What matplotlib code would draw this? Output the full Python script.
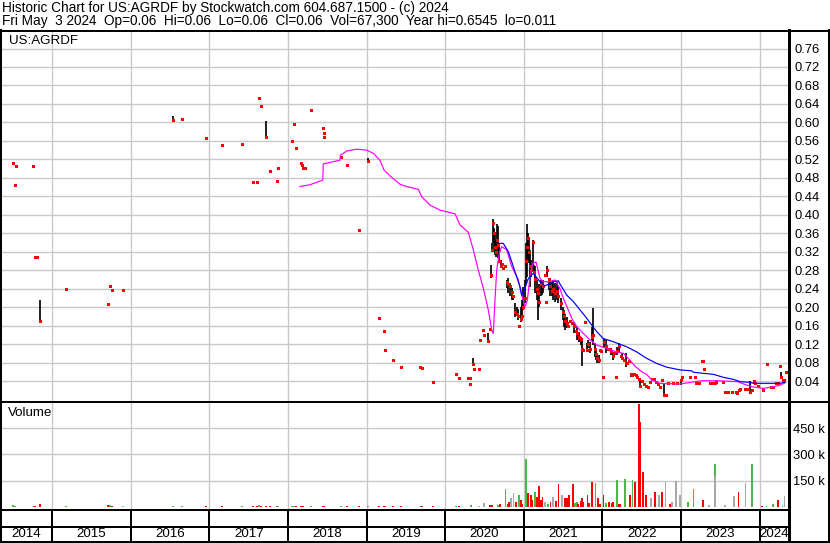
import matplotlib
matplotlib.use('Agg')
import matplotlib.pyplot as plt
from matplotlib.lines import Line2D

# ---------------- data (dates as decimal years) ----------------
range_dates = [2014.847, 2016.540, 2017.723, 2019.021, 2020.357, 2020.540,
               2020.582, 2020.594, 2020.611, 2020.624, 2020.636, 2020.649, 2020.662, 2020.675,
               2020.687, 2020.705, 2020.781, 2020.802, 2020.823, 2020.845, 2020.865, 2020.891,
               2020.909, 2020.925, 2020.959, 2020.976, 2020.993, 2021.010, 2021.027, 2021.036,
               2021.048, 2021.061, 2021.078, 2021.094, 2021.112, 2021.129, 2021.145, 2021.163,
               2021.180, 2021.196, 2021.214, 2021.231, 2021.247, 2021.298, 2021.316, 2021.332,
               2021.354, 2021.374, 2021.396, 2021.418, 2021.438, 2021.468, 2021.494, 2021.510,
               2021.527, 2021.545, 2021.638, 2021.680, 2021.701, 2021.723, 2021.736, 2021.799,
               2021.820, 2021.841, 2021.863, 2021.883, 2021.901, 2021.918, 2021.934, 2021.952,
               2022.023, 2022.045, 2022.108, 2022.130, 2022.189, 2022.210, 2022.252, 2022.295,
               2022.359, 2022.481, 2022.783, 2022.995, 2023.440, 2023.877, 2024.267]
range_high = [0.215, 0.614, 0.603, 0.523, 0.089, 0.145,
              0.291, 0.338, 0.390, 0.371, 0.360, 0.345, 0.380, 0.376,
              0.331, 0.302, 0.259, 0.262, 0.252, 0.241, 0.226, 0.208,
              0.201, 0.197, 0.201, 0.215, 0.244, 0.259, 0.338, 0.380,
              0.360, 0.352, 0.324, 0.302, 0.345, 0.291, 0.288, 0.259,
              0.237, 0.251, 0.259, 0.248, 0.259, 0.288, 0.262, 0.259,
              0.255, 0.259, 0.252, 0.255, 0.244, 0.219, 0.201, 0.194,
              0.186, 0.179, 0.165, 0.158, 0.147, 0.136, 0.129, 0.122,
              0.129, 0.125, 0.158, 0.199, 0.122, 0.111, 0.100, 0.096,
              0.132, 0.129, 0.111, 0.100, 0.114, 0.122, 0.100, 0.100,
              0.058, 0.046, 0.035, 0.042, 0.042, 0.039, 0.060]
range_low = [0.171, 0.605, 0.568, 0.517, 0.077, 0.123,
             0.264, 0.320, 0.338, 0.324, 0.313, 0.309, 0.331, 0.306,
             0.302, 0.284, 0.241, 0.230, 0.223, 0.215, 0.215, 0.179,
             0.183, 0.172, 0.168, 0.179, 0.194, 0.208, 0.251, 0.266,
             0.302, 0.295, 0.244, 0.266, 0.280, 0.273, 0.230, 0.215,
             0.172, 0.201, 0.223, 0.226, 0.230, 0.266, 0.237, 0.223,
             0.223, 0.215, 0.212, 0.215, 0.208, 0.194, 0.172, 0.158,
             0.150, 0.154, 0.143, 0.129, 0.125, 0.118, 0.072, 0.103,
             0.111, 0.100, 0.129, 0.118, 0.093, 0.085, 0.078, 0.078,
             0.114, 0.100, 0.096, 0.085, 0.096, 0.100, 0.085, 0.070,
             0.048, 0.028, 0.010, 0.031, 0.035, 0.013, 0.049]

close_dates = [2014.496, 2014.522, 2014.534, 2014.751, 2014.780, 2014.801, 2014.847, 2015.170,
               2015.705, 2015.730, 2015.756, 2015.896, 2016.540, 2016.646, 2016.952, 2017.155,
               2017.410, 2017.554, 2017.601, 2017.626, 2017.652, 2017.723, 2017.766, 2017.855,
               2017.868, 2018.046, 2018.071, 2018.097, 2018.160, 2018.173, 2018.186, 2018.211,
               2018.288, 2018.441, 2018.453, 2018.460, 2018.669, 2018.746, 2018.898, 2019.021,
               2019.153, 2019.217, 2019.229, 2019.331, 2019.433, 2019.675, 2019.700, 2019.840,
               2020.132, 2020.171, 2020.289, 2020.314, 2020.320, 2020.357, 2020.365, 2020.429,
               2020.442, 2020.476, 2020.493, 2020.540, 2020.569,
               2020.582, 2020.594, 2020.611, 2020.624, 2020.636, 2020.649, 2020.662, 2020.675,
               2020.687, 2020.705, 2020.722, 2020.738, 2020.760, 2020.781, 2020.802, 2020.823,
               2020.845, 2020.865, 2020.891, 2020.909, 2020.925, 2020.942, 2020.959, 2020.976,
               2020.993, 2021.010, 2021.027, 2021.036, 2021.048, 2021.061, 2021.078, 2021.094,
               2021.112, 2021.129, 2021.145, 2021.163, 2021.180, 2021.196, 2021.214, 2021.231,
               2021.247, 2021.265, 2021.281, 2021.298, 2021.316, 2021.332, 2021.354, 2021.374,
               2021.396, 2021.418, 2021.438, 2021.468, 2021.494, 2021.510, 2021.527, 2021.545,
               2021.565, 2021.587, 2021.612, 2021.638, 2021.659, 2021.680, 2021.701, 2021.723,
               2021.736, 2021.756, 2021.778, 2021.799, 2021.820, 2021.841, 2021.863, 2021.883,
               2021.901, 2021.918, 2021.934, 2021.952, 2021.968, 2021.985, 2022.003, 2022.023,
               2022.045, 2022.066, 2022.087, 2022.108, 2022.130, 2022.150, 2022.172, 2022.189,
               2022.210, 2022.232, 2022.252, 2022.274, 2022.295, 2022.316, 2022.337, 2022.359,
               2022.379, 2022.401, 2022.423, 2022.443, 2022.465, 2022.481, 2022.503, 2022.528,
               2022.554, 2022.579, 2022.605, 2022.630, 2022.655, 2022.681, 2022.706, 2022.732,
               2022.757, 2022.783, 2022.808, 2022.834, 2022.901, 2022.944, 2022.995, 2023.008,
               2023.113, 2023.177, 2023.190, 2023.228, 2023.262, 2023.283, 2023.292, 2023.368,
               2023.390, 2023.410, 2023.431, 2023.440, 2023.537, 2023.559, 2023.601, 2023.652,
               2023.695, 2023.715, 2023.733, 2023.750, 2023.813, 2023.855, 2023.877, 2023.898,
               2023.928, 2023.940, 2023.983, 2024.038, 2024.097, 2024.140, 2024.173, 2024.208,
               2024.237, 2024.258, 2024.267, 2024.293, 2024.313, 2024.335]
close_prices = [0.513, 0.464, 0.506, 0.506, 0.309, 0.309, 0.171, 0.239,
                0.207, 0.246, 0.237, 0.237, 0.605, 0.607, 0.567, 0.551,
                0.553, 0.471, 0.471, 0.653, 0.636, 0.568, 0.495, 0.474,
                0.502, 0.560, 0.597, 0.545, 0.513, 0.508, 0.502, 0.502,
                0.627, 0.588, 0.578, 0.569, 0.526, 0.508, 0.368, 0.517,
                0.177, 0.149, 0.108, 0.086, 0.071, 0.071, 0.069, 0.0385,
                0.0545, 0.047, 0.047, 0.047, 0.034, 0.077, 0.0666, 0.0666,
                0.129, 0.151, 0.140, 0.126, 0.153,
                0.27, 0.324, 0.383, 0.36, 0.33, 0.32, 0.345, 0.335,
                0.30, 0.29, 0.293, 0.284, 0.29, 0.255, 0.25, 0.245,
                0.232, 0.225, 0.19, 0.186, 0.18, 0.16, 0.175, 0.18,
                0.20, 0.22, 0.30, 0.33, 0.35, 0.32, 0.29, 0.28,
                0.34, 0.275, 0.26, 0.24, 0.23, 0.21, 0.25, 0.25,
                0.245, 0.27, 0.21, 0.28, 0.26, 0.245, 0.235, 0.24,
                0.23, 0.235, 0.225, 0.208, 0.19, 0.18, 0.17, 0.165,
                0.16, 0.17, 0.165, 0.16, 0.148, 0.145, 0.135, 0.13,
                0.11, 0.107, 0.168, 0.107, 0.12, 0.11, 0.135, 0.14,
                0.11, 0.098, 0.09, 0.085, 0.107, 0.105, 0.049, 0.125,
                0.115, 0.11, 0.11, 0.105, 0.095, 0.10, 0.049, 0.105,
                0.115, 0.095, 0.09, 0.085, 0.08, 0.078, 0.083, 0.055,
                0.052, 0.055, 0.052, 0.048, 0.045, 0.03, 0.04, 0.033,
                0.03, 0.027, 0.038, 0.045, 0.045, 0.038, 0.033, 0.028,
                0.042, 0.01, 0.01, 0.035, 0.035, 0.036, 0.042, 0.049,
                0.049, 0.049, 0.035, 0.035, 0.084, 0.084, 0.066, 0.035,
                0.035, 0.035, 0.035, 0.038, 0.0386, 0.017, 0.017, 0.017,
                0.017, 0.013, 0.02, 0.022, 0.022, 0.022, 0.017, 0.02,
                0.039, 0.035, 0.03, 0.02, 0.077, 0.026, 0.026, 0.036,
                0.036, 0.073, 0.049, 0.042, 0.042, 0.059]

ma_short_dates = [2018.152, 2018.279, 2018.441, 2018.448, 2018.660, 2018.667, 2018.746, 2018.873,
                  2019.000, 2019.084, 2019.169, 2019.220, 2019.297, 2019.424, 2019.509, 2019.657,
                  2019.700, 2019.805, 2019.933, 2020.124, 2020.187, 2020.293, 2020.357, 2020.420,
                  2020.484, 2020.547, 2020.591, 2020.611, 2020.632, 2020.654, 2020.687, 2020.718,
                  2020.781, 2020.845, 2020.929, 2020.972, 2021.014, 2021.044, 2021.078, 2021.112,
                  2021.154, 2021.205, 2021.247, 2021.332, 2021.396, 2021.459, 2021.502, 2021.565,
                  2021.608, 2021.672, 2021.756, 2021.841, 2021.926, 2022.010, 2022.181, 2022.265,
                  2022.350, 2022.414, 2022.499, 2022.570, 2022.626, 2022.732, 2022.986, 2023.262,
                  2023.453, 2023.728, 2023.771, 2023.898, 2024.046, 2024.173, 2024.258, 2024.322]
ma_short = [0.461, 0.465, 0.475, 0.510, 0.518, 0.529, 0.538, 0.542,
            0.540, 0.533, 0.518, 0.497, 0.484, 0.466, 0.461, 0.455,
            0.439, 0.421, 0.410, 0.402, 0.378, 0.362, 0.324, 0.280,
            0.241, 0.194, 0.150, 0.143, 0.215, 0.280, 0.317, 0.331,
            0.324, 0.288, 0.259, 0.226, 0.201, 0.215, 0.266, 0.295,
            0.298, 0.262, 0.255, 0.255, 0.259, 0.240, 0.219, 0.194,
            0.176, 0.158, 0.143, 0.129, 0.118, 0.113, 0.103, 0.100,
            0.085, 0.072, 0.060, 0.053, 0.042, 0.035, 0.0335, 0.0406,
            0.0406, 0.0385, 0.035, 0.0277, 0.024, 0.0277, 0.031, 0.036]

ma_long_dates = [2020.654, 2020.738, 2020.802, 2020.865, 2020.950, 2020.972, 2021.014, 2021.056,
                 2021.120, 2021.205, 2021.269, 2021.374, 2021.438, 2021.459, 2021.545, 2021.629,
                 2021.714, 2021.799, 2021.863, 2021.926, 2022.010, 2022.138, 2022.308, 2022.435,
                 2022.563, 2022.690, 2022.817, 2022.986, 2023.135, 2023.155, 2023.283, 2023.410,
                 2023.537, 2023.665, 2023.750, 2023.877, 2023.919, 2024.258, 2024.322]
ma_long = [0.338, 0.338, 0.320, 0.288, 0.244, 0.226, 0.241, 0.262,
           0.273, 0.255, 0.246, 0.255, 0.257, 0.250, 0.226, 0.212,
           0.194, 0.176, 0.161, 0.147, 0.132, 0.125, 0.114, 0.103,
           0.089, 0.078, 0.070, 0.064, 0.062, 0.059, 0.0566, 0.0545,
           0.048, 0.0436, 0.0385, 0.037, 0.035, 0.035, 0.037]

vol_dates = [2014.496, 2014.522, 2014.751, 2014.780, 2014.847, 2015.170, 2015.705, 2015.730,
             2015.756, 2015.896, 2016.540, 2016.646, 2016.952, 2017.155, 2017.410, 2017.554,
             2017.601, 2017.626, 2017.652, 2017.723, 2017.766, 2017.855, 2017.868, 2018.046,
             2018.071, 2018.097, 2018.160, 2018.186, 2018.288, 2018.441, 2018.453, 2018.669,
             2018.746, 2018.898, 2019.021, 2019.153, 2019.217, 2019.229, 2019.331, 2019.433,
             2019.675, 2019.700, 2019.840, 2020.132, 2020.171,
             2020.327, 2020.429, 2020.493, 2020.569, 2020.594, 2020.671, 2020.767, 2020.798,
             2020.836, 2020.868, 2020.900, 2020.938, 2020.963, 2021.023, 2021.052, 2021.090,
             2021.138, 2021.192, 2021.238, 2021.269, 2021.340, 2021.370, 2021.406, 2021.440,
             2021.485, 2021.523, 2021.574, 2021.622, 2021.676, 2021.739, 2021.811, 2021.864,
             2021.912, 2021.943, 2022.013, 2022.080, 2022.134, 2022.181, 2022.229, 2022.283,
             2022.350, 2022.383, 2022.414, 2022.465, 2022.485, 2022.512, 2022.551, 2022.617,
             2022.668, 2022.719, 2022.754, 2022.800, 2022.855, 2022.885, 2022.935, 2022.986,
             2023.088, 2023.158, 2023.279, 2023.355, 2023.428, 2023.436, 2023.559, 2023.673,
             2023.731, 2023.820, 2023.898, 2024.029, 2024.088, 2024.168, 2024.233, 2024.289,
             2024.316,
             2020.696, 2020.811, 2020.982, 2021.103, 2021.167, 2021.218, 2021.307, 2021.549,
             2021.650, 2021.688, 2021.723, 2021.752, 2021.828, 2021.969, 2022.045, 2022.115,
             2022.210]
vol_values = [10000, 8000, 8000, 8000, 15000, 8000, 12000, 12000,
              8000, 6000, 8000, 6000, 6000, 6000, 6000, 6000,
              6000, 10000, 6000, 8000, 6000, 6000, 6000, 6000,
              8000, 6000, 6000, 6000, 8000, 6000, 8000, 6000,
              6000, 6000, 6000, 8000, 6000, 6000, 6000, 8000,
              6000, 6000, 6000, 6000, 6000,
              11000, 6000, 25000, 12000, 12000, 12000, 103000, 20000,
              49000, 80000, 30000, 68000, 40000, 274000, 80000, 68000,
              87000, 122000, 55000, 30000, 30000, 55000, 35000, 130000,
              68000, 50000, 68000, 130000, 30000, 50000, 68000, 141000,
              137000, 50000, 68000, 30000, 30000, 154000, 20000, 160000,
              68000, 154000, 140000, 586000, 487000, 201000, 68000, 49000,
              87000, 68000, 87000, 141000, 20000, 30000, 148000, 68000,
              30000, 103000, 40000, 11000, 245000, 175000, 11000, 64000,
              87000, 137000, 245000, 6000, 6000, 17000, 40000, 11000,
              63000,
              15000, 30000, 20000, 40000, 60000, 40000, 20000, 50000,
              25000, 20000, 35000, 30000, 25000, 20000, 25000, 25000,
              15000]
vol_dir = ['u', 'u', 'n', 'd', 'd', 'u', 'd', 'u',
           'd', 'n', 'u', 'u', 'd', 'd', 'u', 'd',
           'd', 'u', 'd', 'd', 'd', 'd', 'u', 'u',
           'u', 'd', 'd', 'd', 'u', 'd', 'd', 'u',
           'd', 'd', 'u', 'd', 'd', 'd', 'd', 'd',
           'n', 'd', 'd', 'u', 'd',
           'u', 'n', 'n', 'd', 'd', 'u', 'u', 'd',
           'n', 'n', 'd', 'u', 'd', 'u', 'd', 'd',
           'u', 'd', 'd', 'n', 'd', 'n', 'd', 'd',
           'n', 'd', 'd', 'd', 'u', 'd', 'd', 'd',
           'u', 'd', 'd', 'd', 'd', 'u', 'd', 'u',
           'd', 'u', 'd', 'd', 'd', 'd', 'd', 'n',
           'd', 'n', 'd', 'n', 'd', 'n', 'n', 'n',
           'u', 'u', 'd', 'n', 'u', 'n', 'n', 'n',
           'd', 'n', 'u', 'd', 'u', 'u', 'd', 'n',
           'n',
           'd', 'd', 'd', 'd', 'd', 'd', 'u', 'd',
           'u', 'd', 'd', 'd', 'd', 'd', 'u', 'd',
           'd']

price_ticks = [0.04, 0.08, 0.12, 0.16, 0.20, 0.24, 0.28, 0.32, 0.36, 0.40,
               0.44, 0.48, 0.52, 0.56, 0.60, 0.64, 0.68, 0.72, 0.76]
vol_ticks = [150000, 300000, 450000]
vol_tick_labels = ['150 k', '300 k', '450 k']
year_labels = ['2014', '2015', '2016', '2017', '2018', '2019', '2020', '2021', '2022',
               '2023', '2024']
year_bounds = [2015, 2016, 2017, 2018, 2019, 2020, 2021, 2022, 2023, 2024]

header1 = 'Historic Chart for US:AGRDF by Stockwatch.com 604.687.1500 - (c) 2024'
header2 = ('Fri May  3 2024  Op=0.06  Hi=0.06  Lo=0.06  Cl=0.06  Vol=67,300  '
           'Year hi=0.6545  lo=0.011')

# ---------------- figure ----------------
plt.rcParams['font.family'] = ['Liberation Sans', 'DejaVu Sans']
W, H = 830, 543
fig = plt.figure(figsize=(W / 100, H / 100), dpi=100)
PX = 0.72  # points per pixel


def px_axes(x0, y0, x1, y1, **kw):
    return fig.add_axes([x0 / W, 1 - y1 / H, (x1 - x0) / W, (y1 - y0) / H], **kw)


XMIN, XMAX = 2014.36, 2024.373
GRID = '#c8c8c8'
RED, GREEN, GRAY = '#ff0000', '#4cb84c', '#a8a8a8'


def clean(ax):
    for s in ax.spines.values():
        s.set_visible(False)
    ax.set_xlim(XMIN, XMAX)
    ax.set_xticks([])
    ax.patch.set_alpha(0)


# price panel
axp = px_axes(2, 31, 789, 401)
clean(axp)
axp.set_ylim(-0.0033, 0.7979)
axp.yaxis.tick_right()
axp.set_yticks(price_ticks)
axp.set_yticklabels([f'{t:.2f}' for t in price_ticks], fontsize=9.4)
axp.tick_params(axis='y', length=0, pad=4)
for t in price_ticks:
    axp.axhline(t, color=GRID, lw=1.4 * PX, zorder=0)
for yb in year_bounds:
    axp.axvline(yb, color=GRID, lw=1.4 * PX, zorder=0)
axp.vlines(range_dates, range_low, range_high, color='black', lw=1.7 * PX, zorder=2)
axp.plot(close_dates, close_prices, 's', color=RED, ms=3.0 * PX, mew=0, zorder=3)
axp.plot(ma_short_dates, ma_short, color='#ff00ff', lw=1.2 * PX, zorder=4)
axp.plot(ma_long_dates, ma_long, color='#0000ff', lw=1.2 * PX, zorder=4)

# volume panel
axv = px_axes(2, 402, 789, 509.5)
clean(axv)
axv.set_ylim(-14000, 599000)
axv.yaxis.tick_right()
axv.set_yticks(vol_ticks)
axv.set_yticklabels(vol_tick_labels, fontsize=9.4)
axv.tick_params(axis='y', length=0, pad=3)
for t in vol_ticks:
    axv.axhline(t, color=GRID, lw=1.4 * PX, zorder=0)
for yb in year_bounds:
    axv.axvline(yb, color=GRID, lw=1.4 * PX, zorder=0)
cmap = {'u': GREEN, 'd': RED, 'n': GRAY}
axv.bar(vol_dates, vol_values, width=0.022, color=[cmap[d] for d in vol_dir],
        linewidth=0, zorder=2)

# date axis panel
axd = px_axes(2, 509.5, 789, 541.5)
clean(axd)
axd.set_ylim(0, 1)
axd.set_yticks([])
edges = [2014.3346] + year_bounds + [XMAX]
for i, lab in enumerate(year_labels):
    axd.text((edges[i] + edges[i + 1]) / 2, 0.24, lab, ha='center', va='center',
             fontsize=9.6)
for yb in year_bounds:
    axd.axvline(yb, color='black', lw=2 * PX)

# overlay for frame + header text (pixel coordinates)
ov = fig.add_axes([0, 0, 1, 1], zorder=10)
ov.set_xlim(0, W)
ov.set_ylim(H, 0)
ov.axis('off')
ov.patch.set_alpha(0)


def hline(y, x0, x1, w):
    ov.add_line(Line2D([x0, x1], [y, y], color='black', lw=w * PX))


def vline(x, y0, y1, w):
    ov.add_line(Line2D([x, x], [y0, y1], color='black', lw=w * PX))


hline(30.5, 0, W, 2)
hline(401.5, 0, W, 2)
hline(509.5, 0, 789, 2)
hline(527, 0, 789, 2)
hline(541.5, 0, W, 2)
vline(1, 30, 542, 2)
vline(789, 30, 542, 3)
vline(829, 30, 542, 2)

ov.text(2, 8, header1, fontsize=9.8, va='center', ha='left')
ov.text(2, 21.5, header2, fontsize=9.8, va='center', ha='left')
ov.text(9, 41.5, 'US:AGRDF', fontsize=9.6, va='center', ha='left')
ov.text(8, 413, 'Volume', fontsize=9.6, va='center', ha='left')

fig.savefig('out.png', dpi=100)
